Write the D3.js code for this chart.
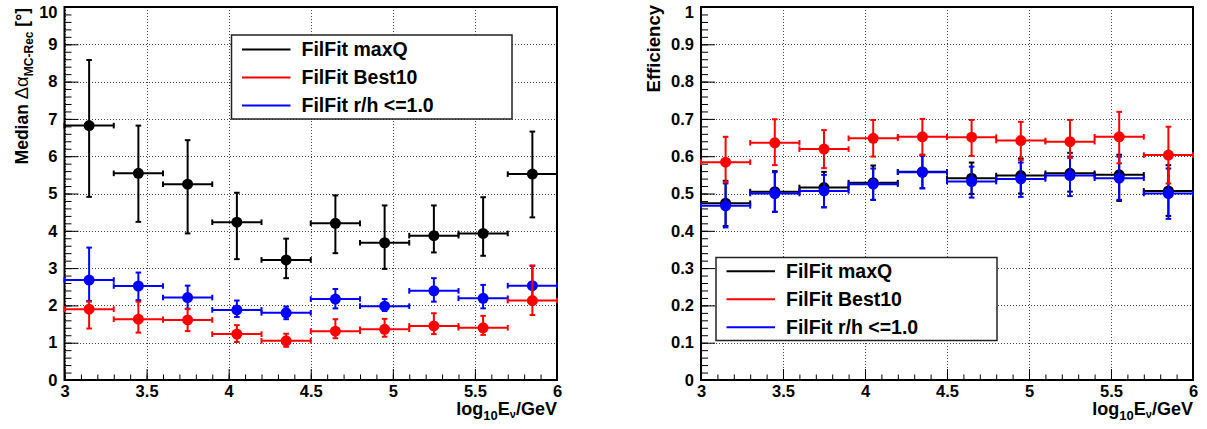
<!DOCTYPE html>
<html>
<head>
<meta charset="utf-8">
<script src="https://cdn.jsdelivr.net/npm/d3@7"></script>
<style>
body { margin: 0; background: #fff; }
svg { display: block; }
</style>
</head>
<body>
<svg id="chart"></svg>
<script>
// energy bins, log10(E/GeV)
let binCenters = [3.15, 3.45, 3.75, 4.05, 4.35, 4.65, 4.95, 5.25, 5.55, 5.85]
let binHalf = 0.15

let xTicks = [3, 3.5, 4, 4.5, 5, 5.5, 6]
let medianTicks = [0, 1, 2, 3, 4, 5, 6, 7, 8, 9, 10]
let effTicks = [0, 0.1, 0.2, 0.3, 0.4, 0.5, 0.6, 0.7, 0.8, 0.9, 1]

let legendLabels = ['FilFit maxQ', 'FilFit Best10', 'FilFit r/h <=1.0']

// median angular error [deg]
let medMaxQ   = [6.82, 5.54, 5.25, 4.23, 3.22, 4.20, 3.68, 3.87, 3.93, 5.52]
let medMaxQLo = [4.91, 4.24, 3.93, 3.24, 2.73, 3.40, 2.98, 3.42, 3.33, 4.36]
let medMaxQHi = [8.58, 6.82, 6.43, 5.02, 3.79, 4.95, 4.68, 4.68, 4.90, 6.66]

let medBest   = [1.90, 1.63, 1.61, 1.23, 1.05, 1.31, 1.36, 1.45, 1.40, 2.13]
let medBestLo = [1.38, 1.27, 1.31, 1.02, 0.89, 1.12, 1.16, 1.23, 1.21, 1.74]
let medBestHi = [2.10, 2.10, 1.90, 1.47, 1.24, 1.63, 1.64, 1.79, 1.72, 3.07]

let medRh   = [2.68, 2.52, 2.21, 1.88, 1.80, 2.17, 1.98, 2.39, 2.19, 2.53]
let medRhLo = [2.12, 2.14, 1.91, 1.69, 1.63, 1.92, 1.85, 2.10, 1.92, 2.14]
let medRhHi = [3.55, 2.88, 2.53, 2.13, 1.97, 2.44, 2.17, 2.73, 2.55, 3.06]

// efficiency
let effMaxQ   = [0.474, 0.505, 0.516, 0.529, 0.558, 0.541, 0.548, 0.554, 0.550, 0.507]
let effMaxQLo = [0.413, 0.451, 0.463, 0.483, 0.514, 0.499, 0.500, 0.505, 0.480, 0.440]
let effMaxQHi = [0.534, 0.560, 0.558, 0.575, 0.604, 0.583, 0.594, 0.609, 0.604, 0.576]

let effBest   = [0.584, 0.636, 0.619, 0.648, 0.652, 0.651, 0.642, 0.639, 0.652, 0.603]
let effBestLo = [0.530, 0.576, 0.568, 0.599, 0.603, 0.601, 0.590, 0.595, 0.581, 0.527]
let effBestHi = [0.652, 0.699, 0.670, 0.697, 0.700, 0.697, 0.692, 0.697, 0.719, 0.679]

let effRh   = [0.467, 0.500, 0.507, 0.525, 0.557, 0.532, 0.539, 0.548, 0.541, 0.500]
let effRhLo = [0.409, 0.451, 0.463, 0.483, 0.514, 0.489, 0.491, 0.493, 0.483, 0.432]
let effRhHi = [0.527, 0.557, 0.550, 0.567, 0.601, 0.572, 0.583, 0.599, 0.599, 0.567]

let colors = { maxQ: '#000000', best: '#ff0000', rh: '#0000ff' }

let width = 1207
let height = 429
let plotTop = 7
let plotBottom = 380
let font = '"Liberation Sans", Arial, Helvetica, sans-serif'

let svg = d3.select('#chart').attr('width', width).attr('height', height)
svg.append('rect').attr('width', width).attr('height', height).attr('fill', '#fff')

let panels = [
    {
        left: 64.5, right: 557, domain: [0, 10], ticks: medianTicks, minorStep: 0.2,
        series: [
            { c: colors.maxQ, v: medMaxQ, lo: medMaxQLo, hi: medMaxQHi },
            { c: colors.rh, v: medRh, lo: medRhLo, hi: medRhHi },
            { c: colors.best, v: medBest, lo: medBestLo, hi: medBestHi }
        ],
        legend: { x: 231.5, y: 35, w: 280.5, h: 84, row0: 14.5 },
        ytitle: 'median'
    },
    {
        left: 701, right: 1193, domain: [0, 1], ticks: effTicks, minorStep: 0.02,
        series: [
            { c: colors.maxQ, v: effMaxQ, lo: effMaxQLo, hi: effMaxQHi },
            { c: colors.rh, v: effRh, lo: effRhLo, hi: effRhHi },
            { c: colors.best, v: effBest, lo: effBestLo, hi: effBestHi }
        ],
        legend: { x: 716, y: 257.5, w: 281, h: 83, row0: 13.7 },
        ytitle: 'eff'
    }
]

styleTicks = (sel, size) => {
    sel.select('.domain').remove()
    sel.attr('font-family', font).attr('font-size', size).attr('font-weight', 'bold')
    sel.selectAll('.tick line').attr('stroke', '#000').attr('stroke-width', 1)
}

drawPanel = (p) => {
    let g = svg.append('g')
    let xScale = d3.scaleLinear().domain([3, 6]).range([p.left, p.right])
    let yScale = d3.scaleLinear().domain(p.domain).range([plotBottom, plotTop])
    let plotW = p.right - p.left
    let plotH = plotBottom - plotTop

    // dotted grid
    let gx = g.append('g')
        .attr('transform', 'translate(0,' + plotBottom + ')')
        .call(d3.axisBottom(xScale).tickValues(xTicks).tickSize(-plotH).tickFormat(''))
    let gy = g.append('g')
        .attr('transform', 'translate(' + p.left + ',0)')
        .call(d3.axisLeft(yScale).tickValues(p.ticks).tickSize(-plotW).tickFormat(''))
    ;[gx, gy].forEach(s => {
        s.select('.domain').remove()
        s.selectAll('.tick line')
            .attr('stroke', '#444')
            .attr('stroke-dasharray', '1,2')
            .attr('shape-rendering', 'crispEdges')
    })

    // minor ticks
    let xMinor = d3.range(30, 61).map(d => d / 10)
    let yMinor = d3.range(0, Math.round(p.domain[1] / p.minorStep) + 1).map(i => i * p.minorStep)
    let mx = g.append('g')
        .attr('transform', 'translate(0,' + plotBottom + ')')
        .call(d3.axisBottom(xScale).tickValues(xMinor).tickSize(-5.5).tickFormat(''))
    styleTicks(mx, 16)
    let my = g.append('g')
        .attr('transform', 'translate(' + p.left + ',0)')
        .call(d3.axisLeft(yScale).tickValues(yMinor).tickSize(-7).tickFormat(''))
    styleTicks(my, 16)

    // major ticks + labels
    let ax = g.append('g')
        .attr('transform', 'translate(0,' + plotBottom + ')')
        .call(d3.axisBottom(xScale).tickValues(xTicks).tickSize(-11).tickPadding(5).tickFormat(d => String(d)))
    styleTicks(ax, 16.5)
    let ay = g.append('g')
        .attr('transform', 'translate(' + p.left + ',0)')
        .call(d3.axisLeft(yScale).tickValues(p.ticks).tickSize(-14).tickPadding(7).tickFormat(d => String(d)))
    styleTicks(ay, 16.5)
    // top label is nudged down so it stays inside the canvas
    ay.selectAll('.tick text').filter(d => d === p.domain[1]).attr('dy', '0.62em')

    // frame
    g.append('rect')
        .attr('x', p.left).attr('y', plotTop)
        .attr('width', plotW).attr('height', plotH)
        .attr('fill', 'none').attr('stroke', '#000').attr('stroke-width', 2)

    // error bars + markers
    let cap = 2.8
    p.series.forEach(s => {
        let sg = g.append('g').attr('stroke', s.c).attr('stroke-width', 2).attr('fill', s.c)
        let pts = binCenters.map((c, i) => ({ c: c, v: s.v[i], lo: s.lo[i], hi: s.hi[i] }))
        let pg = sg.selectAll('g.pt').data(pts).enter().append('g').attr('class', 'pt')
        pg.append('line')
            .attr('x1', d => xScale(d.c - binHalf)).attr('x2', d => xScale(d.c + binHalf))
            .attr('y1', d => yScale(d.v)).attr('y2', d => yScale(d.v))
        pg.append('line')
            .attr('x1', d => xScale(d.c)).attr('x2', d => xScale(d.c))
            .attr('y1', d => yScale(d.lo)).attr('y2', d => yScale(d.hi))
        // caps on horizontal ends
        ;[-1, 1].forEach(side => {
            pg.append('line')
                .attr('x1', d => xScale(d.c + side * binHalf)).attr('x2', d => xScale(d.c + side * binHalf))
                .attr('y1', d => yScale(d.v) - cap).attr('y2', d => yScale(d.v) + cap)
        })
        ;['lo', 'hi'].forEach(k => {
            pg.append('line')
                .attr('x1', d => xScale(d.c) - cap).attr('x2', d => xScale(d.c) + cap)
                .attr('y1', d => yScale(d[k])).attr('y2', d => yScale(d[k]))
        })
        pg.append('circle')
            .attr('cx', d => xScale(d.c)).attr('cy', d => yScale(d.v))
            .attr('r', 5.5).attr('stroke', 'none')
    })

    // legend
    let L = p.legend
    let lg = g.append('g')
    lg.append('rect')
        .attr('x', L.x).attr('y', L.y).attr('width', L.w).attr('height', L.h)
        .attr('fill', '#fff').attr('stroke', '#222').attr('stroke-width', 1.5)
    let legColors = [colors.maxQ, colors.best, colors.rh]
    legendLabels.forEach((lab, i) => {
        let ry = L.y + L.row0 + i * 28
        lg.append('line')
            .attr('x1', L.x + 10.5).attr('x2', L.x + 59)
            .attr('y1', ry).attr('y2', ry)
            .attr('stroke', legColors[i]).attr('stroke-width', 2)
        lg.append('text')
            .attr('x', L.x + 70).attr('y', ry + 6.5)
            .attr('font-family', font).attr('font-weight', 'bold').attr('font-size', 19.5)
            .text(lab)
    })

    // x title
    let xt = g.append('text')
        .attr('x', p.right).attr('y', 415)
        .attr('text-anchor', 'end')
        .attr('font-family', font).attr('font-weight', 'bold').attr('font-size', 18)
    xt.append('tspan').text('log')
    xt.append('tspan').attr('font-size', 13).attr('dy', 5).text('10')
    xt.append('tspan').attr('dy', -5).text('E')
    xt.append('tspan').attr('font-size', 11).attr('dy', 3).text('ν')
    xt.append('tspan').attr('dy', -3).text('/GeV')

    // y title
    if (p.ytitle === 'median') {
        let yt = g.append('text')
            .attr('transform', 'translate(28,8) rotate(-90)')
            .attr('text-anchor', 'end')
            .attr('font-family', font).attr('font-weight', 'bold').attr('font-size', 17.5)
        yt.append('tspan').text('Median ')
        yt.append('tspan').attr('font-weight', 'normal').attr('font-size', 18.5).text('Δα')
        yt.append('tspan').attr('font-size', 12).attr('dy', 5).text('MC-Rec')
        yt.append('tspan').attr('dy', -5).text(' [°]')
    } else {
        g.append('text')
            .attr('transform', 'translate(660,5) rotate(-90)')
            .attr('text-anchor', 'end')
            .attr('font-family', font).attr('font-weight', 'bold').attr('font-size', 18.5)
            .text('Efficiency')
    }
}

panels.forEach(p => drawPanel(p))
</script>
</body>
</html>
